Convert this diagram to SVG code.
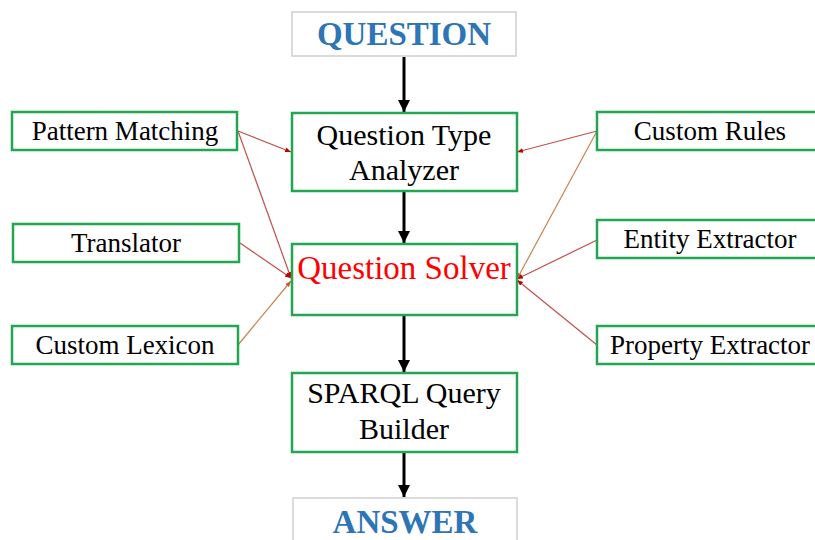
<svg xmlns="http://www.w3.org/2000/svg" width="815" height="540" viewBox="0 0 815 540">
  <style>
    .box { fill: #ffffff; stroke: #22a652; stroke-width: 2.5; }
    .term { fill: #ffffff; stroke: #cfcfcf; stroke-width: 1.5; }
    .lbl { font-family: "Liberation Serif", "Times New Roman", serif; fill: #000000; text-anchor: middle; }
    .side { font-size: 27px; }
    .main { font-size: 30px; }
    .term-lbl { font-family: "Liberation Serif", "Times New Roman", serif; font-weight: bold; font-size: 33px; fill: #2e75b6; text-anchor: middle; }
    .flow { stroke: #000000; stroke-width: 3; fill: none; marker-end: url(#big); }
    .feed { stroke: #c0504d; stroke-width: 1.2; fill: none; marker-end: url(#small); }
    .feed-alt { stroke: #c8834f; stroke-width: 1.2; fill: none; marker-end: url(#smallAlt); }
  </style>
  <defs>
    <marker id="big" viewBox="0 0 10 10" refX="10" refY="5" markerWidth="4" markerHeight="4" orient="auto" markerUnits="strokeWidth">
      <path d="M0,0 L10,5 L0,10 Z" fill="#000000"/>
    </marker>
    <marker id="small" viewBox="0 0 10 10" refX="10" refY="5" markerWidth="5" markerHeight="5" orient="auto" markerUnits="strokeWidth">
      <path d="M0,1 L10,5 L0,9 Z" fill="#c00000"/>
    </marker>
    <marker id="smallAlt" viewBox="0 0 10 10" refX="10" refY="5" markerWidth="5" markerHeight="5" orient="auto" markerUnits="strokeWidth">
      <path d="M0,1 L10,5 L0,9 Z" fill="#c0602d"/>
    </marker>
  </defs>

  <rect width="815" height="540" fill="#ffffff"/>

  <!-- connectors -->
  <g id="connectors">
    <line class="flow" x1="404" y1="57" x2="404" y2="112"/>
    <line class="flow" x1="404" y1="192" x2="404" y2="243"/>
    <line class="flow" x1="404" y1="316" x2="404" y2="372"/>
    <line class="flow" x1="404" y1="453" x2="404" y2="497"/>

    <line class="feed" x1="238" y1="131" x2="291" y2="152"/>
    <line class="feed" x1="238" y1="131" x2="291" y2="278"/>
    <line class="feed" x1="240" y1="243" x2="291" y2="278"/>
    <line class="feed-alt" x1="238" y1="345" x2="291" y2="281"/>

    <line class="feed" x1="597" y1="131" x2="517" y2="152"/>
    <line class="feed-alt" x1="597" y1="131" x2="517" y2="279"/>
    <line class="feed" x1="597" y1="240" x2="517" y2="279"/>
    <line class="feed" x1="597" y1="345" x2="517" y2="280"/>
  </g>

  <!-- main column -->
  <g id="question">
    <rect class="term" x="292" y="12" width="224" height="44"/>
    <text class="term-lbl" x="404" y="45">QUESTION</text>
  </g>
  <g id="type-analyzer">
    <rect class="box" x="292" y="113" width="225" height="78"/>
    <text class="lbl main" x="404" y="145">Question Type</text>
    <text class="lbl main" x="404" y="180">Analyzer</text>
  </g>
  <g id="solver">
    <rect class="box" x="292" y="244" width="225" height="71"/>
    <text class="lbl" x="404" y="279" font-size="33" style="fill:#ff0000">Question Solver</text>
  </g>
  <g id="query-builder">
    <rect class="box" x="292" y="373" width="225" height="79"/>
    <text class="lbl main" x="404" y="403">SPARQL Query</text>
    <text class="lbl main" x="404" y="439">Builder</text>
  </g>
  <g id="answer">
    <rect class="term" x="293" y="498" width="224" height="50"/>
    <text class="term-lbl" x="405" y="533">ANSWER</text>
  </g>

  <!-- left inputs -->
  <g id="pattern-matching">
    <rect class="box" x="12" y="112" width="225" height="38"/>
    <text class="lbl side" x="125" y="140">Pattern Matching</text>
  </g>
  <g id="translator">
    <rect class="box" x="13" y="224" width="226" height="38"/>
    <text class="lbl side" x="126" y="252">Translator</text>
  </g>
  <g id="custom-lexicon">
    <rect class="box" x="12" y="326" width="226" height="38"/>
    <text class="lbl side" x="125" y="354">Custom Lexicon</text>
  </g>

  <!-- right inputs -->
  <g id="custom-rules">
    <rect class="box" x="597" y="112" width="240" height="38"/>
    <text class="lbl side" x="710" y="140">Custom Rules</text>
  </g>
  <g id="entity-extractor">
    <rect class="box" x="597" y="220" width="240" height="38"/>
    <text class="lbl side" x="710" y="248">Entity Extractor</text>
  </g>
  <g id="property-extractor">
    <rect class="box" x="597" y="326" width="240" height="38"/>
    <text class="lbl side" x="710" y="354">Property Extractor</text>
  </g>
</svg>
